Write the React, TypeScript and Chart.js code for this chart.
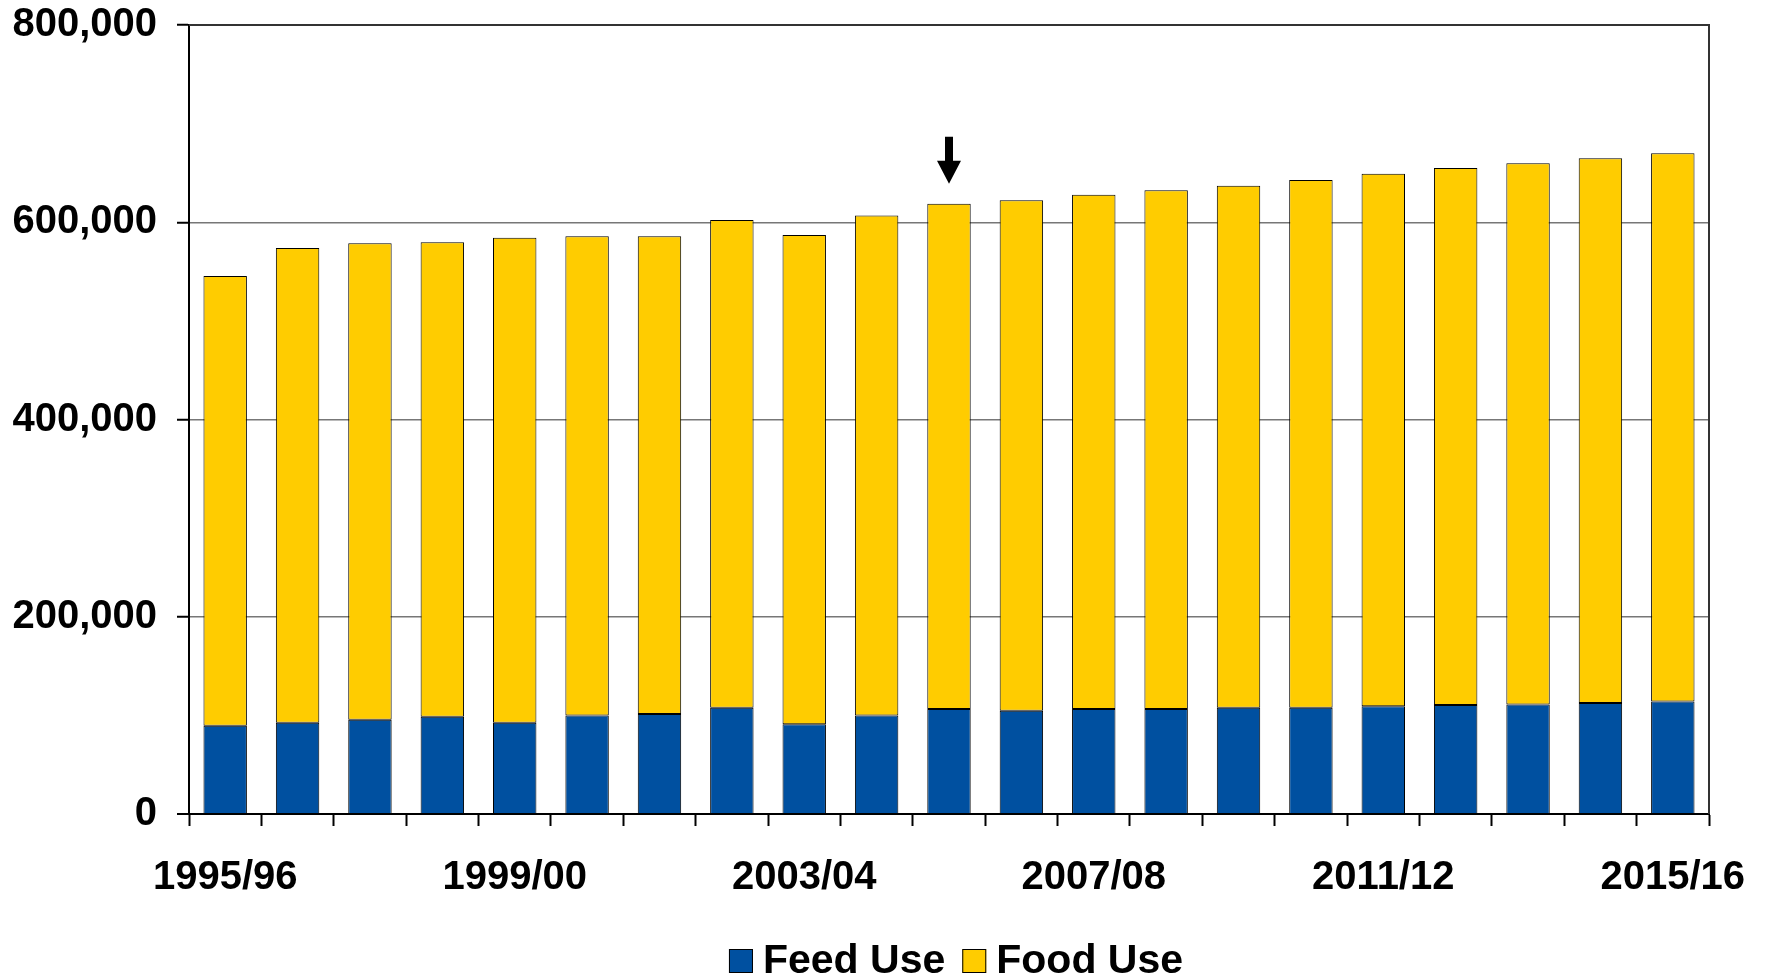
import React, { useEffect, useRef } from "react";
import { Chart, registerables } from "chart.js";

Chart.register(...registerables);

const CATEGORIES = [
  "1995/96", "1996/97", "1997/98", "1998/99", "1999/00", "2000/01", "2001/02",
  "2002/03", "2003/04", "2004/05", "2005/06", "2006/07", "2007/08", "2008/09",
  "2009/10", "2010/11", "2011/12", "2012/13", "2013/14", "2014/15", "2015/16",
];

const TICK_LABELS = ["1995/96", "1999/00", "2003/04", "2007/08", "2011/12", "2015/16"];

const FEED_USE = [
  89500, 92600, 95600, 98700, 92600, 100000, 101400, 107800, 90900, 100000,
  106500, 104800, 106500, 106500, 107800, 107800, 109200, 110500, 111000, 112500, 114000,
];

const FOOD_USE = [
  455900, 481300, 483000, 480900, 491800, 485700, 484300, 494500, 496100, 506800,
  512300, 517400, 521500, 525900, 529200, 535000, 540100, 544500, 548800, 552500, 556000,
];

const Y_TICKS = [0, 200000, 400000, 600000, 800000];

const ARROW_CATEGORY = "2005/06";

const FONT_FAMILY = "'Liberation Sans', Arial, sans-serif";
const BLUE = "#0050A0";
const YELLOW = "#FFCC00";

const frameAndArrowPlugin = {
  id: "frameAndArrow",
  afterDatasetsDraw(chart: any) {
    const { ctx, chartArea } = chart;
    ctx.save();
    ctx.strokeStyle = "#333";
    ctx.lineWidth = 2;
    ctx.beginPath();
    ctx.moveTo(chartArea.left, chartArea.top);
    ctx.lineTo(chartArea.right, chartArea.top);
    ctx.lineTo(chartArea.right, chartArea.bottom);
    ctx.stroke();

    const idx = CATEGORIES.indexOf(ARROW_CATEGORY);
    const meta = chart.getDatasetMeta(1);
    const el = meta.data[idx];
    if (el) {
      const x = el.x;
      const tip = el.y - 20;
      const headTop = tip - 23;
      const shaftTop = headTop - 24;
      ctx.fillStyle = "#000";
      ctx.beginPath();
      ctx.moveTo(x - 4, shaftTop);
      ctx.lineTo(x + 4, shaftTop);
      ctx.lineTo(x + 4, headTop);
      ctx.lineTo(x + 12, headTop);
      ctx.lineTo(x, tip);
      ctx.lineTo(x - 12, headTop);
      ctx.lineTo(x - 4, headTop);
      ctx.closePath();
      ctx.fill();
    }
    ctx.restore();
  },
};

const legendPlugin = {
  id: "customLegend",
  afterDraw(chart: any) {
    const { ctx } = chart;
    const datasets = chart.data.datasets;
    ctx.save();
    ctx.font = `bold 41px ${FONT_FAMILY}`;
    ctx.textBaseline = "middle";
    const box = 24;
    const gap = 10;
    const itemGap = 17;
    const widths = datasets.map((d: any) => ctx.measureText(d.label).width);
    let total = 0;
    widths.forEach((w: number, i: number) => {
      total += box + gap + w + (i < widths.length - 1 ? itemGap : 0);
    });
    let x = 956 - total / 2;
    const y = 961;
    datasets.forEach((d: any, i: number) => {
      ctx.fillStyle = d.backgroundColor;
      ctx.fillRect(x, y - box / 2, box, box);
      ctx.strokeStyle = "#000";
      ctx.lineWidth = 1;
      ctx.strokeRect(x + 0.5, y - box / 2 + 0.5, box - 1, box - 1);
      x += box + gap;
      ctx.fillStyle = "#000";
      ctx.textAlign = "left";
      ctx.fillText(d.label, x, y + 1);
      x += widths[i] + itemGap;
    });
    ctx.restore();
  },
};

export default function App() {
  const canvasRef = useRef<HTMLCanvasElement | null>(null);

  useEffect(() => {
    if (!canvasRef.current) return;
    const chart = new Chart(canvasRef.current, {
      type: "bar",
      data: {
        labels: CATEGORIES,
        datasets: [
          {
            label: "Feed Use",
            data: FEED_USE,
            backgroundColor: BLUE,
            borderColor: "#000",
            borderWidth: 1,
            borderSkipped: false,
            barPercentage: 0.6,
            categoryPercentage: 1,
          },
          {
            label: "Food Use",
            data: FOOD_USE,
            backgroundColor: YELLOW,
            borderColor: "#000",
            borderWidth: 1,
            borderSkipped: false,
            barPercentage: 0.6,
            categoryPercentage: 1,
          },
        ],
      },
      options: {
        animation: false,
        responsive: true,
        maintainAspectRatio: false,
        layout: { padding: { left: 0, right: 60, top: 25, bottom: 0 } },
        plugins: {
          legend: { display: false },
          tooltip: { enabled: false },
        },
        scales: {
          x: {
            stacked: true,
            afterFit: (s: any) => {
              s.height = 164;
              s.paddingLeft = 0;
              s.paddingRight = 0;
            },
            grid: {
              display: true,
              offset: true,
              drawOnChartArea: false,
              drawTicks: true,
              tickLength: 12,
              tickColor: "#000",
              tickWidth: 2,
            },
            border: { display: true, color: "#000", width: 2 },
            ticks: {
              autoSkip: false,
              maxRotation: 0,
              minRotation: 0,
              padding: 28,
              color: "#000",
              font: { family: FONT_FAMILY, size: 40, weight: "bold" },
              callback: function (this: any, value: any, index: number) {
                const lbl = CATEGORIES[index];
                return TICK_LABELS.includes(lbl) ? lbl : "";
              },
            },
          },
          y: {
            stacked: true,
            min: Y_TICKS[0],
            max: Y_TICKS[Y_TICKS.length - 1],
            afterFit: (s: any) => {
              s.width = 189;
              s.paddingTop = 0;
              s.paddingBottom = 0;
            },
            afterBuildTicks: (s: any) => {
              s.ticks = Y_TICKS.map((v) => ({ value: v }));
            },
            grid: {
              color: (c: any) => (c.tick && c.tick.value === 800000 ? "#333" : "#777"),
              lineWidth: (c: any) => (c.tick && c.tick.value === 0 ? 0 : 1.5),
              tickLength: 12,
              tickColor: "#000",
              tickWidth: 2,
            },
            border: { display: true, color: "#000", width: 2 },
            ticks: {
              padding: 20,
              color: "#000",
              font: { family: FONT_FAMILY, size: 40, weight: "bold" },
              callback: (v: any) => Number(v).toLocaleString("en-US"),
            },
          },
        },
      },
      plugins: [frameAndArrowPlugin, legendPlugin],
    });
    return () => chart.destroy();
  }, []);

  return (
    <div style={{ position: "fixed", left: 0, top: 0, width: 1769, height: 978, background: "#fff" }}>
      <canvas ref={canvasRef} />
    </div>
  );
}
